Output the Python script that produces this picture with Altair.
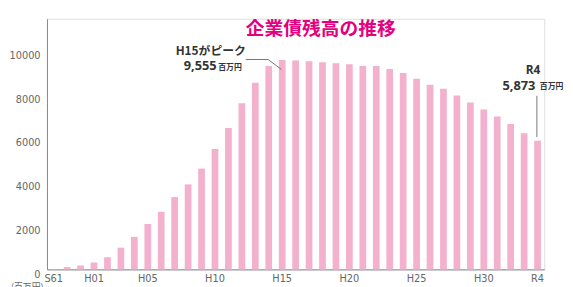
import altair as alt
import pandas as pd

years = ["S61", "S62", "S63"] + [f"H{i:02d}" for i in range(1, 10)] + [f"H{i}" for i in range(10, 31)] + ["R1", "R2", "R3", "R4"]
values = [20, 104, 180, 315, 555, 990, 1486, 2072, 2627, 3300, 3880, 4600,
          5495, 6455, 7583, 8514, 9279, 9555, 9540, 9505, 9459, 9414, 9369, 9279,
          9279, 9144, 8964, 8700, 8423, 8243, 7941, 7613, 7297, 6982, 6635, 6216, 5873]
shown_ticks = ["S61", "H01", "H05", "H10", "H15", "H20", "H25", "H30", "R4"]
y_ticks = [0, 2000, 4000, 6000, 8000, 10000]

df = pd.DataFrame({"year": years, "value": values})

W, H = 504, 254
label_font = "Liberation Sans Narrow, DejaVu Sans Condensed, sans-serif"
jp_font = "Noto Sans CJK JP"

bars = alt.Chart(df).mark_bar(color="#F3B1CD").encode(
    x=alt.X("year:N", sort=years,
            scale=alt.Scale(paddingInner=0.5, paddingOuter=0.25),
            axis=alt.Axis(values=shown_ticks, title=None, labelAngle=0, ticks=False,
                          domainColor="#888888", labelColor="#666666", labelFontSize=11,
                          labelFont=label_font, labelPadding=3)),
    y=alt.Y("value:Q", scale=alt.Scale(domain=[0, 11440], nice=False, zero=True),
            axis=alt.Axis(values=y_ticks, format="d", title=None, ticks=False, grid=False,
                          domainColor="#888888", labelColor="#666666", labelFontSize=11,
                          labelFont=label_font, labelPadding=7, labelOffset=5)),
)

def txt(s, x, y, size, color="#333333", weight="normal", align="center", font=jp_font):
    return alt.Chart(pd.DataFrame({"t": [s]})).mark_text(
        fontSize=size, color=color, fontWeight=weight, align=align, baseline="middle", font=font
    ).encode(text="t:N", x=alt.value(x), y=alt.value(y))

def line(x1, y1, x2, y2):
    return alt.Chart(pd.DataFrame({"a": [0]})).mark_rule(color="#777777", strokeWidth=1).encode(
        x=alt.value(x1), y=alt.value(y1), x2=alt.value(x2), y2=alt.value(y2))

layers = [
    bars,
    txt("企業債残高の推移", 277.5, 10, 19, color="#E4007F", weight="bold"),
    txt("H15がピーク", 166, 33, 12, weight="bold"),
    txt("9,555", 172, 47.5, 13, weight="bold", align="right", font="Open Sans"),
    txt("百万円", 173.5, 49.5, 8, weight="bold", align="left"),
    txt("R4", 492.5, 52, 12, weight="bold", font="Open Sans"),
    txt("5,873", 495, 68, 13, weight="bold", align="right", font="Open Sans"),
    txt("百万円", 499.5, 69, 8, weight="bold", align="left"),
    txt("(百万円)", -20, 272, 9, color="#666666", align="center"),
    line(201.5, 41.3, 224.2, 41.3),
    line(224.2, 41.3, 237.5, 51.3),
    line(496.5, 78, 496.5, 120),
]

chart = alt.layer(*layers).properties(
    width=W, height=H,
    autosize=alt.AutoSizeParams(type="none"),
    padding={"left": 39.5, "top": 9, "right": 21, "bottom": 20},
).configure_view(stroke=None).configure(background="white")

chart.save("out.html", embed_options={"renderer": "svg", "actions": False})
